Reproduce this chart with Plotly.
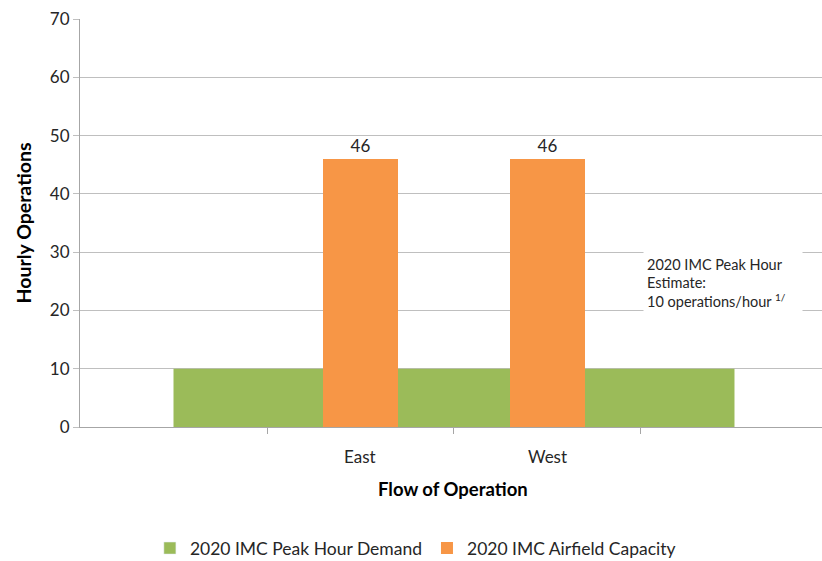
import plotly.graph_objects as go

# Category slots on the x axis (outer two are empty padding slots)
categories = ["", "East", "West", ""]
demand = [10, 10, 10, 10]          # 2020 IMC Peak Hour Demand (area)
capacity_cats = ["East", "West"]
capacity = [46, 46]                # 2020 IMC Airfield Capacity (bars)
y_ticks = [0, 10, 20, 30, 40, 50, 60, 70]

FONT = "Lato"
TXT = "#262626"
GREEN = "#9bbb59"
ORANGE = "#f79646"

pos = list(range(len(categories)))
cap_pos = [categories.index(c) for c in capacity_cats]

fig = go.Figure()

# Demand drawn as a flat area spanning the category slots
fig.add_trace(go.Scatter(
    x=pos, y=demand, mode="none", fill="tozeroy", fillcolor=GREEN,
    name="2020 IMC Peak Hour Demand", xaxis="x", yaxis="y",
    hoverinfo="skip", showlegend=False,
))
# Square legend key for the demand area
fig.add_trace(go.Bar(
    x=[None], y=[None], marker_color=GREEN,
    name="2020 IMC Peak Hour Demand", xaxis="x", yaxis="y",
))

fig.add_trace(go.Bar(
    x=cap_pos, y=capacity, width=0.4, marker_color=ORANGE,
    marker_line_width=0, name="2020 IMC Airfield Capacity",
    text=capacity, texttemplate="%{y}", textposition="outside",
    textfont=dict(family=FONT, size=17, color=TXT),
    cliponaxis=False, xaxis="x2", yaxis="y",
))

xr = [-0.5, 3.468]
fig.update_layout(
    width=822, height=561,
    margin=dict(l=80, r=0, t=19, b=134, autoexpand=False),
    paper_bgcolor="white", plot_bgcolor="white",
    font=dict(family=FONT, color=TXT),
    showlegend=True,
    legend=dict(
        orientation="h", x=0.452, xanchor="center", y=-0.297, yanchor="middle",
        font=dict(family=FONT, size=17.5, color=TXT),
        itemwidth=30, tracegroupgap=0,
    ),
    xaxis=dict(
        range=xr, tickmode="array",
        tickvals=[0.5, 1.5, 2.5, 3.5], showticklabels=False,
        ticks="outside", ticklen=6, tickcolor="#a6a6a6",
        showgrid=False, zeroline=False,
        showline=True, linecolor="#a6a6a6", linewidth=1,
    ),
    xaxis2=dict(
        range=xr, overlaying="x", showgrid=False, zeroline=False,
        showline=False, showticklabels=False,
    ),
    yaxis=dict(
        range=[0, 70], tickmode="array", tickvals=y_ticks,
        ticks="outside", ticklen=6, tickcolor="#bfbfbf",
        tickfont=dict(family=FONT, size=17, color=TXT),
        showgrid=True, gridcolor="#bfbfbf", gridwidth=1,
        zeroline=False, showline=True, linecolor="#a6a6a6", linewidth=1,
        title=dict(text="<b>Hourly Operations</b>",
                   font=dict(family=FONT, size=19.5, color="#000"), standoff=13),
    ),
    bargap=0,
)

# Category names under each slot
for i, c in enumerate(categories):
    if c:
        fig.add_annotation(
            x=i, y=0, xref="x", yref="y", yshift=-29, text=c,
            showarrow=False, font=dict(family=FONT, size=17, color=TXT),
        )

# X-axis title
fig.add_annotation(
    x=0.503, y=-0.152, xref="paper", yref="paper", yanchor="middle",
    text="<b>Flow of Operation</b>", showarrow=False,
    font=dict(family=FONT, size=18.5, color="#000"),
)

# Callout for the peak-hour estimate
fig.add_annotation(
    x=2.51, y=24.7, xref="x", yref="y", xanchor="left", yanchor="middle",
    text="2020 IMC Peak Hour<br>Estimate:<br>10 operations/hour <sup>1/</sup>",
    showarrow=False, align="left", bgcolor="white", width=152, height=74,
    font=dict(family=FONT, size=14.5, color=TXT), borderpad=3,
)

fig.write_html("out.html")
